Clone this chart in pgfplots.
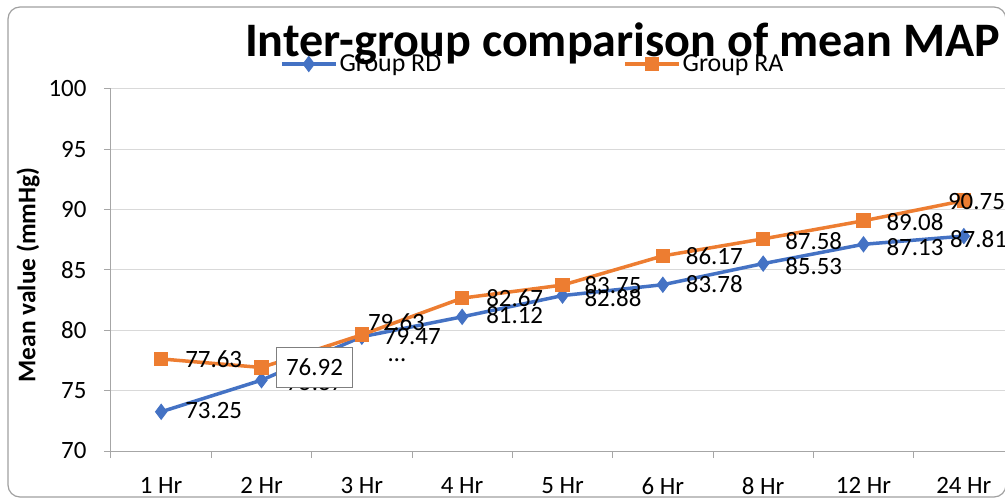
\documentclass[border=0pt]{standalone}
\usepackage{pgfplots}
\pgfplotsset{compat=1.18}
\usepackage{pgfplotstable}
\usepackage{fontspec}
\setmainfont{Carlito}
\definecolor{cblue}{HTML}{4472C4}
\definecolor{corange}{HTML}{ED7D31}
\definecolor{axgray}{HTML}{A6A6A6}
\definecolor{gridgray}{HTML}{D9D9D9}
\definecolor{framegray}{HTML}{A0A0A0}
\definecolor{boxgray}{HTML}{7F7F7F}

\pgfplotstableread{
x y dx dy
0 73.25 24 1
1 75.87 25 -2
2 79.47 22 0
3 81.12 24 2
4 82.88 22 -3
5 83.78 23 1
6 85.53 22 -2
7 87.13 23 -3
8 87.81 -14 -3
}\rd
\pgfplotstableread{
x y
0 77.63
1 76.92
2 79.63
3 82.67
4 83.75
5 86.17
6 87.58
7 89.08
8 90.75
}\ra
\pgfplotstableread{
x y dx dy
0 77.63 24 0
2 79.63 6 13
3 82.67 24 0
4 83.75 22 0
5 86.17 23 0
6 87.58 22 -2
7 89.08 23 -1
8 90.75 -16 -1
}\ralab

\begin{document}
\begin{tikzpicture}
\useasboundingbox (-111bp,-51bp) rectangle (894bp,451bp);
\clip (-111bp,-51bp) rectangle (894bp,451bp);
\draw[framegray, line width=1.2bp, rounded corners=12bp] (-103bp,-46bp) rectangle (895bp,444bp);
\begin{axis}[
  scale only axis, width=903bp, height=362bp,
  xmin=-0.5, xmax=8.5, ymin=70, ymax=100,
  axis x line*=bottom, axis y line*=left,
  axis line style={axgray, line width=1bp},
  ytick={70,75,...,100},
  xtick={-0.5,0.5,...,8.5},
  xticklabels={},
  extra x ticks={0,1,...,8},
  extra x tick labels={1 Hr,2 Hr,3 Hr,4 Hr,5 Hr,6 Hr,8 Hr,12 Hr,24 Hr},
  extra x tick style={major tick length=0pt},
  major tick length=7bp,
  tick align=outside,
  tick style={axgray, line width=1bp},
  ymajorgrids, major grid style={gridgray, line width=1bp},
  ticklabel style={font=\fontsize{25}{30}\selectfont, text=black},
  xticklabel style={yshift=-23bp},
  yticklabel style={xshift=-14bp},
  /pgf/number format/assume math mode=true,
  clip=false,
  legend columns=2,
  legend style={at={(0.1872,1.069)}, anchor=west, draw=none, fill=none,
    inner sep=0pt, outer sep=0pt, nodes={inner sep=0pt},
    font=\fontsize{26}{30}\selectfont,
    /tikz/every odd column/.append style={column sep=2bp},
    /tikz/every even column/.append style={column sep=182bp}},
  legend image code/.code={\draw[mark repeat=2, mark phase=2, #1] plot coordinates {(0bp,0bp)(27bp,0bp)(54bp,0bp)};},
]
\addplot[cblue, line width=3.5bp, mark=diamond*, mark size=7.5bp, mark options={line width=1bp}] table[x=x,y=y]{\rd};
\addlegendentry{Group RD}
\addplot[corange, line width=3.5bp, mark=square*, mark size=6.8bp, mark options={line width=1bp}] table[x=x,y=y]{\ra};
\addlegendentry{Group RA}

\addplot[draw=none, mark=none, forget plot, point meta=explicit,
  visualization depends on={\thisrow{dx}\as\dx},
  visualization depends on={\thisrow{dy}\as\dy},
  nodes near coords={\pgfmathprintnumber[fixed,fixed zerofill,precision=2,assume math mode=true]{\pgfplotspointmeta}},
  nodes near coords style={anchor=west, inner sep=0pt, xshift=\dx, yshift=\dy, text=black, font=\fontsize{25}{30}\selectfont}]
  table[x=x,y=y,meta=y]{\rd};
\addplot[draw=none, mark=none, forget plot, point meta=explicit,
  visualization depends on={\thisrow{dx}\as\dx},
  visualization depends on={\thisrow{dy}\as\dy},
  nodes near coords={\pgfmathprintnumber[fixed,fixed zerofill,precision=2,assume math mode=true]{\pgfplotspointmeta}},
  nodes near coords style={anchor=west, inner sep=0pt, xshift=\dx, yshift=\dy, text=black, font=\fontsize{25}{30}\selectfont}]
  table[x=x,y=y,meta=y]{\ralab};
\addplot[draw=none, mark=none, forget plot, point meta=y,
  nodes near coords={\pgfmathprintnumber[fixed,fixed zerofill,precision=2,assume math mode=true]{\pgfplotspointmeta}},
  nodes near coords style={anchor=west, xshift=14bp, draw=boxgray, fill=white, line width=1.2bp, inner xsep=10bp, inner ysep=11.5bp, text=black, font=\fontsize{25}{30}\selectfont}]
  coordinates {(1,76.92)};
\node[font=\fontsize{25}{30}\selectfont] at (axis cs:2.35,77.55) {…};
\end{axis}
\node[font=\fontsize{48.3}{56}\selectfont\bfseries, anchor=base] at (511.5bp,394bp) {Inter-group comparison of mean MAP};
\node[rotate=90, font=\fontsize{25.5}{30}\selectfont\bfseries] at (-83bp,176bp) {Mean value (mmHg)};
\end{tikzpicture}
\end{document}
